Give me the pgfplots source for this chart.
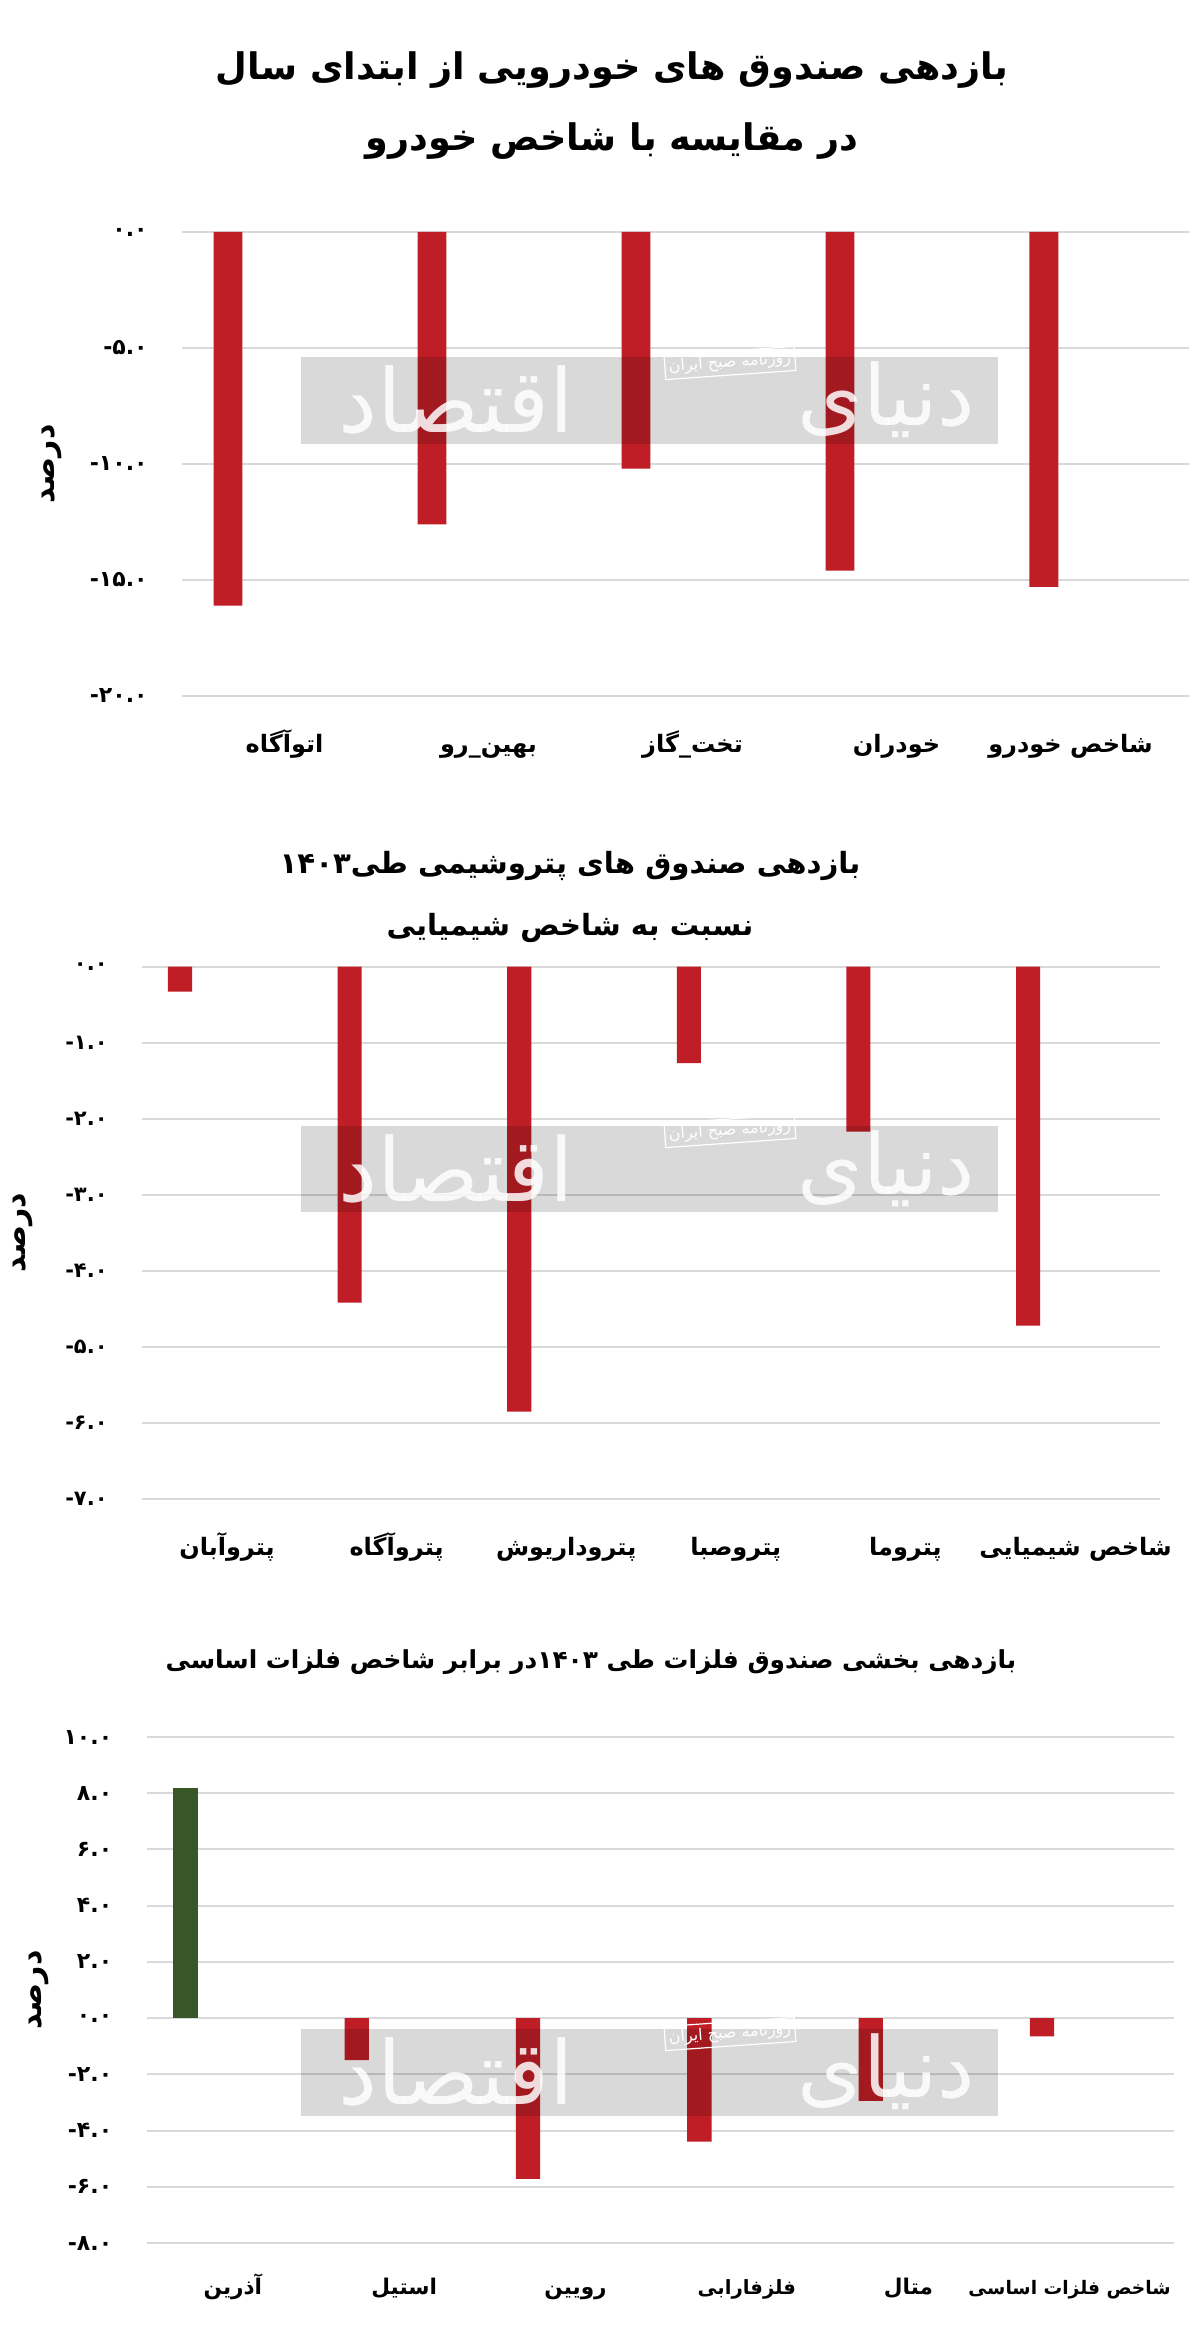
\documentclass[border=0pt]{standalone}
\usepackage{fontspec}
\usepackage{pgfplots}
\pgfplotsset{compat=1.18}
\TeXXeTstate=1
\newfontfamily\fa[Script=Arabic]{DejaVu Sans}
\newfontfamily\num[Script=Latin]{DejaVu Sans}
\definecolor{barred}{RGB}{192,30,38}
\definecolor{bargreen}{RGB}{56,87,41}
\definecolor{gridgray}{RGB}{217,217,217}
\pgfplotsset{
  mychart/.style={
    scale only axis,
    anchor=north west,
    ybar, bar shift=0pt, bar width=0.142,
    enlargelimits=false,
    axis line style={draw=none},
    major tick length=0pt,
    ymajorgrids,
    grid style={gridgray, line width=1pt},
    xtick style={draw=none}, ytick style={draw=none},
    yticklabel style={font=\num\bfseries\fontsize{11}{13}\selectfont, anchor=east, inner sep=0pt, xshift=-17pt},
    xticklabel style={font=\fa\bfseries\fontsize{12}{14}\selectfont, anchor=base, inner sep=0pt},
    ylabel={\beginR درصد\endR},
    clip=false,
  },
  ylab/.style={every axis y label/.style={at={(rel axis cs:#1,0.5)}, rotate=90, anchor=center, font=\fa\bfseries\fontsize{15}{17}\selectfont}},
}
\begin{document}
\begin{tikzpicture}
\fill[white] (0,0) rectangle (600pt,-1169pt);
\useasboundingbox (0,0) rectangle (600pt,-1169pt);

% ---------- Chart 1 ----------
\node[font=\fa\bfseries\fontsize{18.3}{22}\selectfont] at (306pt,-35pt) {\beginR بازدهی صندوق های خودرویی از ابتدای سال\endR};
\node[font=\fa\bfseries\fontsize{18.3}{22}\selectfont] at (306pt,-70.5pt) {\beginR در مقایسه با شاخص خودرو\endR};
\begin{axis}[mychart, ylab=-0.129, at={(91pt,-116pt)}, width=503.5pt, height=232pt,
  xmin=-0.2255, xmax=4.711, ymin=-20, ymax=0,
  ytick={-20,-15,-10,-5,0}, yticklabels={-۲۰.۰,-۱۵.۰,-۱۰.۰,-۵.۰,۰.۰},
  xtick={0.277,1.277,2.277,3.277,4.13},
  xticklabels={{\beginR اتوآگاه\endR},{\beginR بهین\_رو\endR},{\beginR تخت\_گاز\endR},{\beginR خودران\endR},{\beginR شاخص خودرو\endR}},
  xticklabel style={yshift=-28pt}]
\addplot[fill=barred, draw=none] coordinates {(0,-16.1) (1,-12.6) (2,-10.2) (3,-14.6) (4,-15.3)};
\end{axis}

% ---------- Chart 2 ----------
\node[font=\fa\bfseries\fontsize{14.6}{18}\selectfont] at (285pt,-433pt) {\beginR بازدهی صندوق های پتروشیمی طی\beginL ۱۴۰۳\endL\endR};
\node[font=\fa\bfseries\fontsize{14.6}{18}\selectfont] at (285pt,-464pt) {\beginR نسبت به شاخص شیمیایی\endR};
\begin{axis}[mychart, ylab=-0.117, at={(71pt,-483.25pt)}, width=509pt, height=266.25pt,
  xmin=-0.224, xmax=5.778, ymin=-7, ymax=0,
  ytick={-7,-6,-5,-4,-3,-2,-1,0}, yticklabels={-۷.۰,-۶.۰,-۵.۰,-۴.۰,-۳.۰,-۲.۰,-۱.۰,۰.۰},
  yticklabel style={font=\num\bfseries\fontsize{10.5}{13}\selectfont},
  xtick={0.277,1.277,2.277,3.277,4.277,5.28},
  xticklabels={{\beginR پتروآبان\endR},{\beginR پتروآگاه\endR},{\beginR پتروداریوش\endR},{\beginR پتروصبا\endR},{\beginR پتروما\endR},{\beginR شاخص شیمیایی\endR}},
  xticklabel style={yshift=-28pt}]
\addplot[fill=barred, draw=none] coordinates {(0,-0.33) (1,-4.42) (2,-5.85) (3,-1.27) (4,-2.17) (5,-4.72)};
\end{axis}

% ---------- Chart 3 ----------
\node[font=\fa\bfseries\fontsize{12.4}{15}\selectfont] at (295.5pt,-831pt) {\beginR بازدهی بخشی صندوق فلزات طی \beginL ۱۴۰۳\endL در برابر شاخص فلزات اساسی\endR};
\begin{axis}[mychart, ylab=-0.105, at={(73.3pt,-868.5pt)}, width=513.7pt, height=253pt,
  xmin=-0.2265, xmax=5.77, ymin=-8, ymax=10,
  ytick={-8,-6,-4,-2,0,2,4,6,8,10}, yticklabels={-۸.۰,-۶.۰,-۴.۰,-۲.۰,۰.۰,۲.۰,۴.۰,۶.۰,۸.۰,۱۰.۰},
  xtick={0.277,1.277,2.277,3.277,4.22,5.16},
  xticklabels={{\beginR آذرین\endR},{\beginR استیل\endR},{\beginR رویین\endR},{\fontsize{9.8}{12}\selectfont\beginR فلزفارابی\endR},{\beginR متال\endR},{\fontsize{9.3}{12}\selectfont\beginR شاخص فلزات اساسی\endR}},
  xticklabel style={font=\fa\bfseries\fontsize{10.8}{13}\selectfont, yshift=-25.5pt}]
\addplot[fill=bargreen, draw=none] coordinates {(0,8.2)};
\addplot[fill=barred, draw=none] coordinates {(1,-1.49) (2,-5.72) (3,-4.39) (4,-2.94) (5,-0.65)};
\end{axis}

% ---------- watermarks ----------
\foreach \yc/\yb in {-178.5/-222, -563/-606, -1014.5/-1058}{
  \fill[black, opacity=0.15] (150.5pt,\yc pt) rectangle (499pt,\yb pt);
}
\foreach \yl/\ys in {-200/-181.5, -584.5/-565.5, -1036/-1017}{
  \node[white, opacity=0.85, font=\fa\fontsize{44}{48}\selectfont] at (228pt,\yl pt) {\beginR اقتصاد\endR};
  \node[white, opacity=0.85, font=\fa\fontsize{42}{46}\selectfont] at (443pt,\yl pt) {\beginR دنیای\endR};
  \node[white, draw=white, line width=0.6pt, rotate=4, inner sep=2pt, font=\fa\fontsize{8}{9}\selectfont] at (365pt,\ys pt) {\beginR روزنامه صبح ایران\endR};
}
\end{tikzpicture}
\end{document}
